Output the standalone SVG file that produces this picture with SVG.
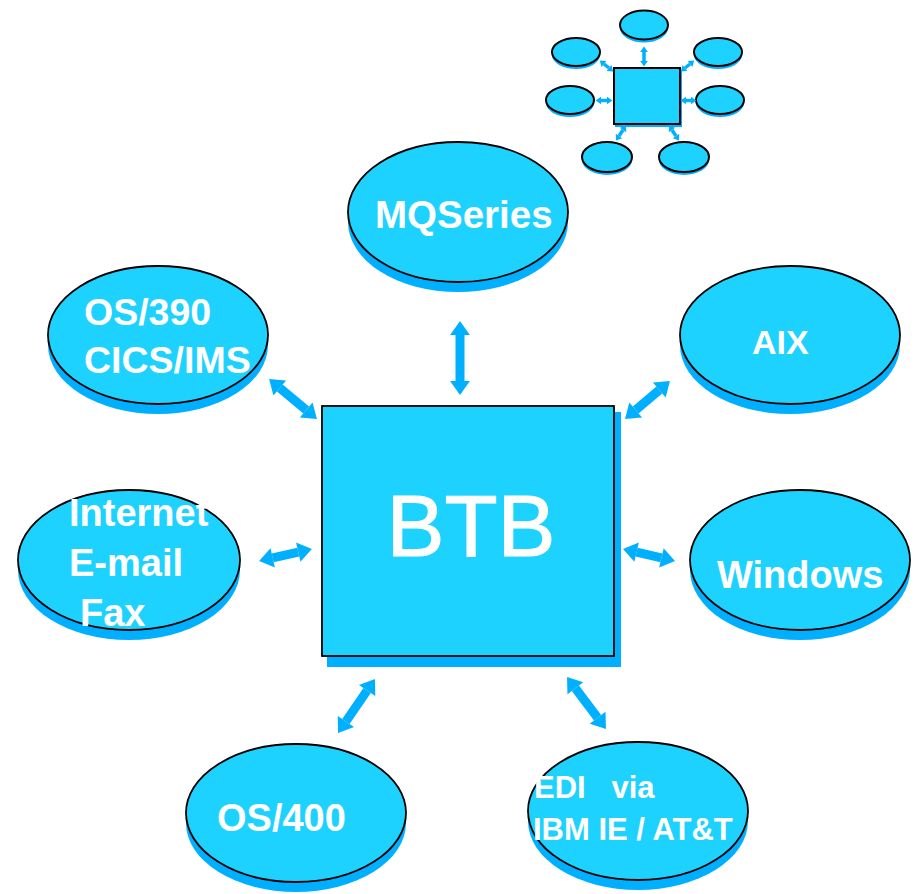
<svg xmlns="http://www.w3.org/2000/svg" width="915" height="894" viewBox="0 0 915 894">
<style>
.sh{fill:#00B0FF;stroke:none}
.nd{fill:#1ED2FF;stroke:#000;stroke-width:1.8}
.sm{fill:#1ED2FF;stroke:#000;stroke-width:2}
.lb{font-family:"Liberation Sans",Arial,sans-serif;font-weight:bold;fill:#fff}
.cn{stroke:#00B0FF;fill:none;marker-start:url(#ah);marker-end:url(#ah)}
</style>
<defs>
<marker id="ah" viewBox="0 -1.1 1.55 2.2" refX="0" refY="0" markerWidth="1.55" markerHeight="2.2" orient="auto-start-reverse" overflow="visible">
<path d="M0,-1.1 L1.55,0 L0,1.1 Z" fill="#00B0FF"/>
</marker>
</defs>
<rect width="915" height="894" fill="#fff"/>

<g id="mini">
<ellipse class="sh" cx="644" cy="28" rx="24" ry="14.5"/><ellipse class="sm" cx="644" cy="25" rx="24" ry="14.5"/>
<ellipse class="sh" cx="576" cy="55" rx="24" ry="14"/><ellipse class="sm" cx="576" cy="52" rx="24" ry="14"/>
<ellipse class="sh" cx="718" cy="55" rx="24" ry="14"/><ellipse class="sm" cx="718" cy="52" rx="24" ry="14"/>
<ellipse class="sh" cx="570" cy="103" rx="24" ry="14"/><ellipse class="sm" cx="570" cy="100" rx="24" ry="14"/>
<ellipse class="sh" cx="720" cy="103" rx="24" ry="14"/><ellipse class="sm" cx="720" cy="100" rx="24" ry="14"/>
<ellipse class="sh" cx="607" cy="160" rx="25" ry="15"/><ellipse class="sm" cx="607" cy="157" rx="25" ry="15"/>
<ellipse class="sh" cx="684" cy="160" rx="25" ry="15"/><ellipse class="sm" cx="684" cy="157" rx="25" ry="15"/>
<rect class="sh" x="615" y="70" width="67" height="57"/>
<rect class="sm" x="614" y="68" width="66" height="56"/>
<g class="cn" stroke-width="3.5">
<line x1="644" y1="52" x2="644" y2="61"/>
<line x1="604" y1="64" x2="609" y2="68"/>
<line x1="601" y1="100.5" x2="607" y2="100.5"/>
<line x1="690" y1="64" x2="685" y2="68"/>
<line x1="691" y1="100.5" x2="686" y2="100.5"/>
<line x1="623" y1="130" x2="619" y2="136"/>
<line x1="672" y1="130" x2="676" y2="136"/>
</g>
</g>

<g id="connectors" class="cn" stroke-width="9">
<line x1="460" y1="335" x2="460" y2="381"/>
<line x1="279.8" y1="388" x2="306.2" y2="410"/>
<line x1="659.3" y1="390" x2="635.7" y2="410"/>
<line x1="272.7" y1="557.9" x2="298.3" y2="552.1"/>
<line x1="636.6" y1="552.1" x2="661.4" y2="557.9"/>
<line x1="367.1" y1="690.5" x2="345.9" y2="721.5"/>
<line x1="575.4" y1="688.2" x2="597.6" y2="717.8"/>
</g>

<g id="btb">
<rect class="sh" x="327" y="412" width="294" height="255"/>
<rect class="nd" x="322" y="406" width="292" height="250" stroke-width="2"/>
<text class="lb" x="471" y="556" font-size="87" text-anchor="middle" style="font-weight:normal;stroke:#fff;stroke-width:1">BTB</text>
</g>

<g id="mqseries">
<ellipse class="sh" cx="458" cy="222" rx="110" ry="70"/>
<ellipse class="nd" cx="458" cy="212" rx="110" ry="70"/>
<text class="lb" x="375" y="228" font-size="38.5">MQSeries</text>
</g>

<g id="os390">
<ellipse class="sh" cx="158" cy="345" rx="110" ry="69"/>
<ellipse class="nd" cx="158" cy="335" rx="110" ry="69"/>
<text class="lb" font-size="37.5"><tspan x="84" y="325">OS/390</tspan><tspan x="84" y="373">CICS/IMS</tspan></text>
</g>

<g id="aix">
<ellipse class="sh" cx="790" cy="345" rx="110" ry="69"/>
<ellipse class="nd" cx="790" cy="335" rx="110" ry="69"/>
<text class="lb" x="752" y="354" font-size="34">AIX</text>
</g>

<g id="internet">
<ellipse class="sh" cx="129" cy="570" rx="111" ry="70"/>
<ellipse class="nd" cx="129" cy="560" rx="111" ry="70"/>
<text class="lb" font-size="38"><tspan x="69" y="526">Internet</tspan><tspan x="69" y="576">E-mail</tspan><tspan x="80" y="626">Fax</tspan></text>
</g>

<g id="windows">
<ellipse class="sh" cx="800" cy="570" rx="110" ry="70"/>
<ellipse class="nd" cx="800" cy="560" rx="110" ry="70"/>
<text class="lb" x="717" y="588" font-size="38">Windows</text>
</g>

<g id="os400">
<ellipse class="sh" cx="296" cy="823" rx="110" ry="69"/>
<ellipse class="nd" cx="296" cy="813" rx="110" ry="69"/>
<text class="lb" x="217" y="831" font-size="38">OS/400</text>
</g>

<g id="edi">
<ellipse class="sh" cx="638" cy="821" rx="110" ry="69"/>
<ellipse class="nd" cx="638" cy="811" rx="110" ry="69"/>
<text class="lb" font-size="31" xml:space="preserve"><tspan x="534" y="798">EDI   via</tspan><tspan x="533" y="840">IBM IE / AT&amp;T</tspan></text>
</g>
</svg>
